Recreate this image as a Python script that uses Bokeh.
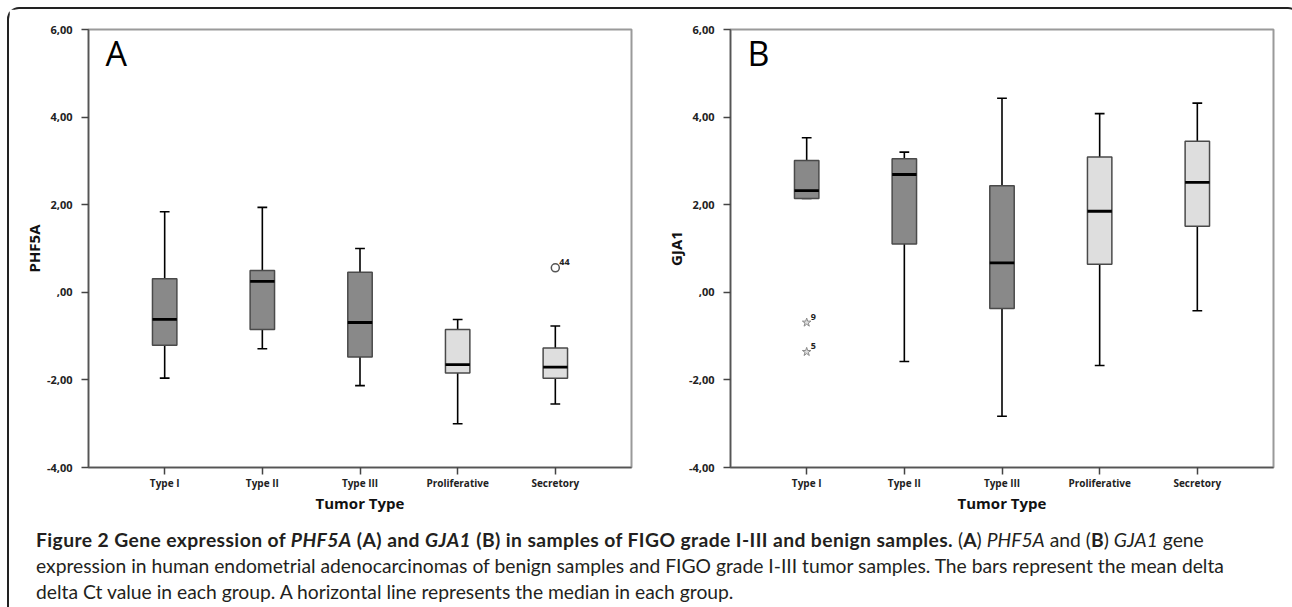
from bokeh.plotting import figure
from bokeh.models import Range1d, FixedTicker, Div, Label, ColumnDataSource
from bokeh.layouts import row, column
from bokeh.embed import file_html
from bokeh.resources import INLINE
from bokeh.core.properties import value

# ---------------- data ----------------
categories = ["Type I", "Type II", "Type III", "Proliferative", "Secretory"]
group_kind = ["tumor", "tumor", "tumor", "benign", "benign"]

phf5a_low = [-1.96, -1.29, -2.13, -3.00, -2.55]
phf5a_q1 = [-1.21, -0.85, -1.48, -1.84, -1.96]
phf5a_med = [-0.62, 0.25, -0.69, -1.65, -1.71]
phf5a_q3 = [0.31, 0.50, 0.46, -0.85, -1.27]
phf5a_high = [1.84, 1.94, 1.00, -0.62, -0.77]
phf5a_out_cat = ["Secretory"]
phf5a_out_val = [0.56]
phf5a_out_lab = ["44"]

gja1_low = [2.14, -1.58, -2.83, -1.67, -0.42]
gja1_q1 = [2.14, 1.10, -0.37, 0.64, 1.51]
gja1_med = [2.32, 2.69, 0.67, 1.85, 2.51]
gja1_q3 = [3.01, 3.05, 2.43, 3.09, 3.45]
gja1_high = [3.53, 3.20, 4.43, 4.08, 4.32]
gja1_out_cat = ["Type I", "Type I"]
gja1_out_val = [-0.69, -1.36]
gja1_out_lab = ["9", "5"]

y_ticks = [-4, -2, 0, 2, 4, 6]
y_tick_labels = ["-4,00", "-2,00", ",00", "2,00", "4,00", "6,00"]

# ---------------- style ----------------
BOX_W = 0.25
CAP_W = 0.10
FILL = {"tumor": "#898989", "benign": "#dedede"}
FONT = "Open Sans"
FIG_H = 510


def make_panel(letter, ylabel, low, q1, med, q3, high, out_cat, out_val, out_lab,
               out_marker, width, min_left, min_right):
    pos = list(range(len(categories)))
    p = figure(width=width, height=FIG_H, output_backend="svg", toolbar_location=None,
               x_range=Range1d(-0.78, len(categories) - 1 + 0.78),
               y_range=Range1d(y_ticks[0], y_ticks[-1]),
               min_border_left=min_left, min_border_right=min_right,
               min_border_top=20, min_border_bottom=52)
    p.grid.visible = False
    p.outline_line_color = "#9a9a9a"
    p.outline_line_width = 2
    p.background_fill_color = "white"
    p.border_fill_color = "white"

    src = ColumnDataSource(dict(
        x=pos, low=low, q1=q1, med=med, q3=q3, high=high,
        fill=[FILL[k] for k in group_kind],
        bx0=[x - BOX_W / 2 for x in pos], bx1=[x + BOX_W / 2 for x in pos],
        cx0=[x - CAP_W / 2 for x in pos], cx1=[x + CAP_W / 2 for x in pos],
    ))
    # whiskers
    p.segment(x0="x", x1="x", y0="q3", y1="high", source=src, line_color="black", line_width=1.6)
    p.segment(x0="x", x1="x", y0="q1", y1="low", source=src, line_color="black", line_width=1.6)
    p.segment(x0="cx0", x1="cx1", y0="high", y1="high", source=src, line_color="black", line_width=1.6)
    p.segment(x0="cx0", x1="cx1", y0="low", y1="low", source=src, line_color="black", line_width=1.6)
    # boxes
    p.vbar(x="x", width=BOX_W, bottom="q1", top="q3", source=src,
           fill_color="fill", line_color="#4a4a4a", line_width=1.5)
    # median
    p.segment(x0="bx0", x1="bx1", y0="med", y1="med", source=src, line_color="black", line_width=2.8)

    # outliers
    osrc = ColumnDataSource(dict(x=[categories.index(c) for c in out_cat], y=out_val, t=out_lab))
    if out_marker == "circle":
        p.scatter(x="x", y="y", source=osrc, marker="circle", size=8,
                  fill_color="white", line_color="#555555", line_width=1.5)
    else:
        p.scatter(x="x", y="y", source=osrc, marker="star", size=9,
                  fill_color="#dddddd", line_color="#8a8a8a", line_width=1)
    p.text(x="x", y="y", text="t", source=osrc, x_offset=4, y_offset=-3,
           text_font=value(FONT), text_font_style="bold", text_font_size="9px",
           text_color="#222222", text_baseline="bottom", text_align="left")

    # panel letter
    p.add_layout(Label(x=p.x_range.start + 0.175, y=y_ticks[-1] - 0.53, text=letter,
                       text_font=FONT, text_font_size="34px", text_color="black",
                       text_baseline="alphabetic", text_align="left"))

    # axes
    p.xaxis.ticker = FixedTicker(ticks=pos)
    p.xaxis.major_label_overrides = {i: c for i, c in zip(pos, categories)}
    p.yaxis.ticker = FixedTicker(ticks=y_ticks)
    p.yaxis.major_label_overrides = {t: l for t, l in zip(y_ticks, y_tick_labels)}
    for ax in (p.xaxis, p.yaxis):
        ax.axis_line_color = "#555555"
        ax.axis_line_width = 1.5
        ax.major_tick_line_color = "#444444"
        ax.major_tick_line_width = 1.5
        ax.major_tick_out = 7
        ax.major_tick_in = 0
        ax.minor_tick_line_color = None
        ax.major_label_text_font = FONT
        ax.major_label_text_font_style = "bold"
        ax.major_label_text_color = "#222222"
        ax.axis_label_text_font = FONT
        ax.axis_label_text_font_style = "bold"
        ax.axis_label_text_font_size = "15px"
        ax.axis_label_text_color = "#111111"
    p.xaxis.major_label_text_font_size = "10px"
    p.yaxis.major_label_text_font_size = "11px"
    p.xaxis.major_label_standoff = 1
    p.yaxis.major_label_standoff = 9
    p.xaxis.axis_label = "Tumor Type"
    p.yaxis.axis_label = ylabel
    p.xaxis.axis_label_standoff = 0
    p.yaxis.axis_label_standoff = 0
    return p


pa = make_panel("A", "PHF5A", phf5a_low, phf5a_q1, phf5a_med, phf5a_q3, phf5a_high,
                phf5a_out_cat, phf5a_out_val, phf5a_out_lab, "circle", 650, 79, 28)
pb = make_panel("B", "GJA1", gja1_low, gja1_q1, gja1_med, gja1_q3, gja1_high,
                gja1_out_cat, gja1_out_val, gja1_out_lab, "star", 629, 71, 15)

caption_html = (
    "<b style='letter-spacing:0.4px'>Figure 2 Gene expression of <i>PHF5A</i> (A) and <i>GJA1</i> (B) "
    "in samples of FIGO grade I-III and benign samples.</b> (<b>A</b>) <i>PHF5A</i> and (<b>B</b>) "
    "<i>GJA1</i> gene<br>"
    "expression in human endometrial adenocarcinomas of benign samples and FIGO grade I-III tumor "
    "samples. The bars represent the mean delta<br>"
    "delta Ct value in each group. A horizontal line represents the median in each group."
)
caption = Div(text=caption_html, width=1279, height=80,
              styles={"font-family": "Lato", "font-size": "19.3px", "line-height": "26px",
                      "white-space": "nowrap", "padding-left": "22px", "padding-top": "3px",
                      "color": "#231f20", "box-sizing": "border-box"})

layout = column(row(pa, pb), caption, margin=(7, 0, 0, 7),
                styles={"border-top": "2px solid #222", "border-left": "2px solid #222",
                        "border-right": "2px solid #222", "border-top-left-radius": "12px",
                        "border-top-right-radius": "12px", "background": "white"})

open("out.html", "w").write(file_html(layout, INLINE))
